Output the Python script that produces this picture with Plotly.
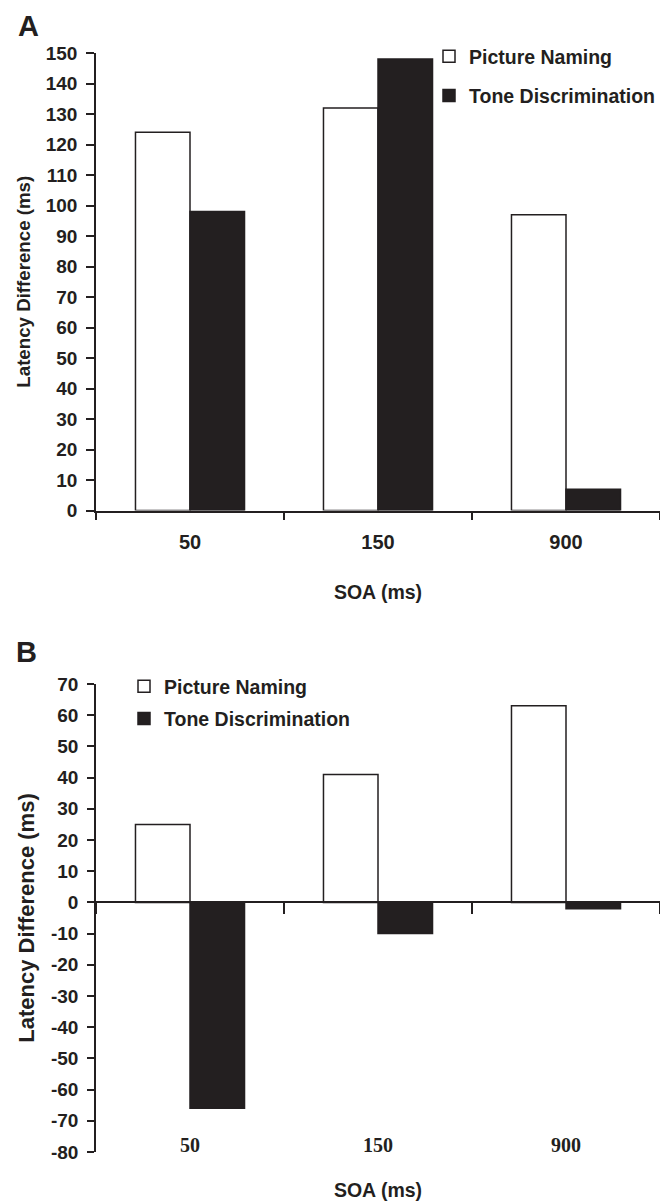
import plotly.graph_objects as go

# ---- data ----
soa = ["50", "150", "900"]
a_picture = [124, 132, 97]
a_tone = [98, 148, 7]
b_picture = [25, 41, 63]
b_tone = [-66, -10, -2]
a_yticks = list(range(0, 151, 10))
b_yticks = list(range(-80, 71, 10))
b_yticktext = [str(v) for v in b_yticks]  # plain hyphen minus as in the original

# The page body has an 8px default margin, so the figure is sized to fit the 668x1203 window.
OFF = 8
W, H = 668 - OFF, 1203 - OFF
PLOT_L, PLOT_R = 96, 660          # screen px of the plot area
L, R = PLOT_L - OFF, OFF + W - PLOT_R
def px_y(y):                      # screen px -> paper fraction
    return 1 - (y - OFF) / H
def px_x(x):
    return (x - PLOT_L) / (PLOT_R - PLOT_L)

BLACK = "#231f20"
SANS = "Liberation Sans, Arial, sans-serif"
SERIF = "Liberation Serif, Times New Roman, serif"

a_dom = [px_y(510.5), px_y(53)]
b_dom = [px_y(1152), px_y(684)]
b_range = [-80, 70]
b_zero = b_dom[0] + (0 - b_range[0]) / (b_range[1] - b_range[0]) * (b_dom[1] - b_dom[0])

fig = go.Figure()
line = dict(color=BLACK, width=1.5)
fig.add_trace(go.Bar(x=soa, y=a_picture, name="Picture Naming", marker=dict(color="white", line=line),
                     xaxis="x", yaxis="y", legend="legend", legendgroup="a1"))
fig.add_trace(go.Bar(x=soa, y=a_tone, name="Tone Discrimination", marker=dict(color=BLACK, line=line),
                     xaxis="x", yaxis="y", legend="legend", legendgroup="a2"))
fig.add_trace(go.Bar(x=soa, y=b_picture, name="Picture Naming", marker=dict(color="white", line=line),
                     xaxis="x2", yaxis="y2", legend="legend2", legendgroup="b1"))
fig.add_trace(go.Bar(x=soa, y=b_tone, name="Tone Discrimination", marker=dict(color=BLACK, line=line),
                     xaxis="x2", yaxis="y2", legend="legend2", legendgroup="b2"))

axis_common = dict(showline=True, linecolor=BLACK, linewidth=1.5, ticks="outside",
                   tickcolor=BLACK, tickwidth=1.5, showgrid=False, zeroline=False,
                   automargin=False)

fig.update_layout(
    width=W, height=H, margin=dict(l=L, r=R, t=0, b=0),
    paper_bgcolor="white", plot_bgcolor="white",
    barmode="group", bargap=0.42, bargroupgap=0,
    font=dict(family=SANS, color=BLACK, size=19, weight="bold"),
    xaxis=dict(domain=[0, 1], anchor="y", type="category", tickson="boundaries", ticklen=8,
               ticklabelstandoff=13,
               tickfont=dict(size=20, family=SANS, weight="bold"),
               title=dict(text="SOA (ms)", font=dict(size=19.5, weight="bold"), standoff=33),
               **axis_common),
    yaxis=dict(domain=a_dom, anchor="x", range=[0, 150], tickvals=a_yticks, ticklen=8,
               ticklabelstandoff=5,
               tickfont=dict(size=19, weight="bold"),
               title=dict(text="Latency Difference (ms)", font=dict(size=18.7, weight="bold"), standoff=10),
               **axis_common),
    xaxis2=dict(domain=[0, 1], anchor="free", position=b_zero, type="category", tickson="boundaries",
                ticklen=11, ticklabelstandoff=225,
                tickfont=dict(size=20, family=SERIF, weight="bold"),
                title=dict(text="SOA (ms)", font=dict(size=19.5, weight="bold"), standoff=27),
                **axis_common),
    yaxis2=dict(domain=b_dom, anchor="x2", range=b_range, tickvals=b_yticks, ticktext=b_yticktext,
                ticklen=7, ticklabelstandoff=5,
                tickfont=dict(size=19, weight="bold"),
                title=dict(text="Latency Difference (ms)", font=dict(size=22, weight="bold"), standoff=10),
                **axis_common),
    legend=dict(x=px_x(429), y=px_y(37), xanchor="left", yanchor="top", traceorder="grouped",
                tracegroupgap=11, font=dict(size=19.5, weight="bold"), bgcolor="rgba(0,0,0,0)"),
    legend2=dict(x=px_x(124), y=px_y(667), xanchor="left", yanchor="top", traceorder="grouped",
                 tracegroupgap=4, font=dict(size=19.5, weight="bold"), bgcolor="rgba(0,0,0,0)"),
    annotations=[
        dict(text="A", x=px_x(28), y=px_y(26), xref="paper", yref="paper", showarrow=False,
             font=dict(size=29, weight="bold"), xanchor="center", yanchor="middle"),
        dict(text="B", x=px_x(26), y=px_y(652), xref="paper", yref="paper", showarrow=False,
             font=dict(size=29, weight="bold"), xanchor="center", yanchor="middle"),
    ],
)

fig.write_html("out.html")
